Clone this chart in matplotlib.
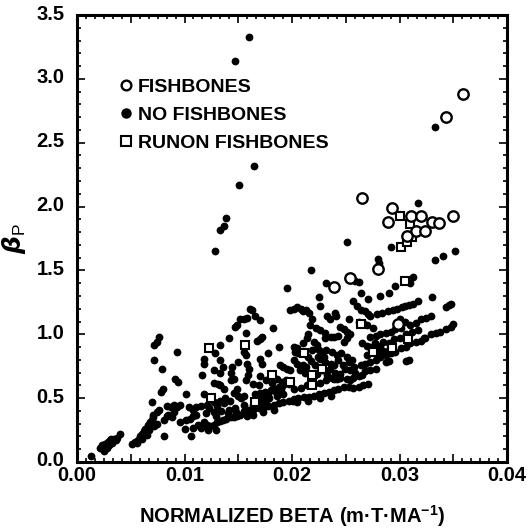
import numpy as np
import matplotlib
matplotlib.use('Agg')
import matplotlib.pyplot as plt
import matplotlib.transforms as mtransforms
from matplotlib.ticker import MultipleLocator, FuncFormatter
from matplotlib.lines import Line2D

plt.rcParams['font.family'] = ['Liberation Sans', 'DejaVu Sans']
plt.rcParams['font.weight'] = 'bold'
plt.rcParams['mathtext.fontset'] = 'dejavusans'

# no fishbones (filled dots): normalized beta, beta_p
nofish_x = [
    0.0160, 0.0147, 0.0151, 0.0165, 0.0128, 0.0133, 0.0137, 0.0139, 0.0333, 0.0317,
    0.0251, 0.0218, 0.0195, 0.0352, 0.0333, 0.0340, 0.0292, 0.0280, 0.0281, 0.0313,
    0.0259, 0.0262, 0.0296, 0.0310, 0.0232,
    0.0225, 0.0264, 0.0271, 0.0282, 0.0290, 0.0330, 0.0329, 0.0343, 0.0346, 0.0348, 0.0323,
    0.0273, 0.0279, 0.0284, 0.0289, 0.0294, 0.0298, 0.0302, 0.0305, 0.0309, 0.0313, 0.0317,
    0.0257, 0.0260, 0.0264, 0.0268, 0.0271,
    0.0198, 0.0202, 0.0205, 0.0208, 0.0210, 0.0213, 0.0216, 0.0219, 0.0226, 0.0233,
    0.0235, 0.0240, 0.0241, 0.0253, 0.0245, 0.0248, 0.0251, 0.0217, 0.0222, 0.0226, 0.0231,
    0.0202, 0.0205, 0.0203, 0.0206, 0.0214, 0.0215, 0.0220, 0.0223, 0.0225, 0.0228, 0.0230,
    0.0231, 0.0236, 0.0239, 0.0243, 0.0248, 0.0251, 0.0254,
    0.0224, 0.0226, 0.0231, 0.0236, 0.0239, 0.0242, 0.0246, 0.0251, 0.0253, 0.0256,
    0.0249, 0.0254, 0.0259, 0.0202, 0.0205, 0.0210, 0.0213, 0.0217, 0.0220, 0.0223,
    0.0233, 0.0237, 0.0242, 0.0245, 0.0251, 0.0254, 0.0257, 0.0262, 0.0265,
    0.0253, 0.0257, 0.0262, 0.0266, 0.0271,
    0.0202, 0.0206, 0.0211, 0.0216, 0.0220, 0.0225, 0.0230, 0.0234, 0.0239, 0.0243, 0.0248,
    0.0202, 0.0208, 0.0214, 0.0220, 0.0226, 0.0232, 0.0239, 0.0245,
    0.0205, 0.0215, 0.0226, 0.0236,
    0.0262, 0.0266, 0.0270, 0.0275, 0.0273, 0.0278, 0.0282, 0.0287, 0.0292, 0.0296, 0.0301,
    0.0285, 0.0290, 0.0295, 0.0265, 0.0270, 0.0273,
    0.0270, 0.0276, 0.0281, 0.0285, 0.0290,
    0.0258, 0.0264, 0.0268, 0.0273, 0.0278, 0.0282, 0.0287, 0.0292, 0.0296, 0.0301, 0.0306,
    0.0310, 0.0315, 0.0320, 0.0324, 0.0329, 0.0334, 0.0338, 0.0343, 0.0348, 0.0350,
    0.0287, 0.0290, 0.0306, 0.0309, 0.0268, 0.0273, 0.0278,
    0.0305, 0.0310, 0.0315, 0.0320, 0.0325, 0.0300,
    0.0167, 0.0170, 0.0172, 0.0182, 0.0178, 0.0188, 0.0170, 0.0172, 0.0189, 0.0192, 0.0195, 0.0198,
    0.0186, 0.0191, 0.0194, 0.0164, 0.0169,
    0.0166, 0.0170, 0.0175, 0.0180, 0.0183, 0.0188, 0.0192, 0.0197,
    0.0155, 0.0160, 0.0164, 0.0169, 0.0174, 0.0178, 0.0183, 0.0188, 0.0192, 0.0197, 0.0201,
    0.0158, 0.0164, 0.0173, 0.0183,
    0.0164, 0.0170, 0.0176, 0.0179, 0.0186, 0.0192,
    0.0118, 0.0118, 0.0128, 0.0133, 0.0133, 0.0141, 0.0147, 0.0149, 0.0152, 0.0155, 0.0158,
    0.0161, 0.0163, 0.0157, 0.0166, 0.0170,
    0.0127, 0.0133, 0.0136, 0.0116, 0.0127, 0.0118, 0.0131, 0.0133, 0.0137,
    0.0143, 0.0146, 0.0143, 0.0144, 0.0150, 0.0155, 0.0157,
    0.0158, 0.0160, 0.0159, 0.0157,
    0.0146, 0.0149, 0.0150, 0.0153, 0.0155,
    0.0113, 0.0118, 0.0121, 0.0124, 0.0127, 0.0130, 0.0133, 0.0136, 0.0139, 0.0143, 0.0146,
    0.0149, 0.0152, 0.0115, 0.0122, 0.0129, 0.0106,
    0.0115, 0.0121, 0.0127, 0.0133, 0.0138, 0.0108, 0.0111,
    0.0120, 0.0127, 0.0134, 0.0141, 0.0147,
    0.0051, 0.0054, 0.0057, 0.0059, 0.0060, 0.0062, 0.0063, 0.0065, 0.0066, 0.0068, 0.0070,
    0.0071, 0.0056, 0.0060, 0.0065, 0.0067, 0.0072, 0.0074,
    0.0070, 0.0071, 0.0074, 0.0076, 0.0072, 0.0072, 0.0074, 0.0076, 0.0079, 0.0078, 0.0080,
    0.0084, 0.0087, 0.0090, 0.0093, 0.0096, 0.0090, 0.0081, 0.0084, 0.0085, 0.0088, 0.0081,
    0.0093, 0.0091, 0.0094, 0.0101, 0.0104, 0.0096, 0.0101, 0.0105, 0.0108, 0.0111, 0.0100, 0.0108,
    0.0021, 0.0023, 0.0025, 0.0026, 0.0028, 0.0029, 0.0031, 0.0032, 0.0034, 0.0025, 0.0028,
    0.0030, 0.0033, 0.0036, 0.0040, 0.0037, 0.0013,
    0.0207, 0.0212, 0.0215, 0.0218, 0.0221, 0.0228, 0.0232, 0.0235, 0.0240, 0.0243, 0.0237,
    0.0232, 0.0247, 0.0219, 0.0210,
    0.0123, 0.0130, 0.0137, 0.0142, 0.0140, 0.0129, 0.0148, 0.0155,
    0.0172, 0.0178, 0.0185, 0.0190, 0.0176, 0.0181, 0.0170,
    0.0277, 0.0282, 0.0300, 0.0306, 0.0312, 0.0317,
]
nofish_y = [
    3.33, 3.14, 2.17, 2.32, 1.65, 1.82, 1.85, 1.91, 2.62, 2.03,
    1.72, 1.50, 1.36, 1.65, 1.58, 1.61, 1.68, 1.59, 1.56, 1.45,
    1.42, 1.41, 1.375, 1.40, 1.40,
    1.29, 1.32, 1.28, 1.30, 1.32, 1.29, 1.14, 1.21, 1.23, 1.24, 0.97,
    1.14, 1.16, 1.17, 1.18, 1.19, 1.20, 1.21, 1.22, 1.23, 1.24, 1.26,
    1.26, 1.22, 1.19, 1.18, 1.16,
    1.19, 1.20, 1.21, 1.20, 1.18, 1.19, 1.17, 1.12, 1.22, 1.14,
    1.12, 1.17, 1.14, 1.12, 1.06, 1.04, 1.02, 1.07, 1.05, 1.03, 1.01,
    0.90, 0.89, 0.86, 0.85, 0.97, 1.00, 0.94, 0.92, 0.88, 0.85, 0.82,
    0.97, 0.98, 0.98, 0.99, 0.94, 0.97, 1.00,
    0.82, 0.81, 0.78, 0.77, 0.76, 0.84, 0.85, 0.82, 0.78, 0.80,
    0.73, 0.72, 0.70, 0.80, 0.77, 0.76, 0.74, 0.68, 0.67, 0.69,
    0.68, 0.66, 0.65, 0.69, 0.65, 0.64, 0.66, 0.67, 0.68,
    0.59, 0.58, 0.59, 0.60, 0.61,
    0.49, 0.50, 0.51, 0.51, 0.52, 0.53, 0.54, 0.55, 0.56, 0.57, 0.59,
    0.57, 0.58, 0.60, 0.61, 0.62, 0.64, 0.65, 0.66,
    0.47, 0.48, 0.50, 0.52,
    1.10, 1.09, 1.07, 1.05, 0.98, 0.99, 1.00, 1.01, 1.02, 1.04, 1.05,
    0.94, 0.93, 0.96, 0.93, 0.91, 0.90,
    0.84, 0.85, 0.86, 0.87, 0.88,
    0.74, 0.76, 0.77, 0.78, 0.80, 0.82, 0.84, 0.85, 0.86, 0.89, 0.90,
    0.93, 0.94, 0.95, 0.97, 1.00, 1.01, 1.02, 1.04, 1.06, 1.08,
    0.78, 0.79, 0.79, 0.80, 0.71, 0.72, 0.73,
    1.10, 1.07, 1.09, 1.12, 1.13, 1.12,
    0.95, 0.96, 0.98, 1.05, 0.85, 0.90, 0.81, 0.77, 0.76, 0.74, 0.73, 0.72,
    0.65, 0.63, 0.64, 0.61, 0.60,
    0.53, 0.54, 0.55, 0.56, 0.57, 0.59, 0.60, 0.61,
    0.40, 0.41, 0.41, 0.42, 0.43, 0.44, 0.45, 0.46, 0.47, 0.48, 0.48,
    0.36, 0.37, 0.39, 0.41,
    0.45, 0.47, 0.48, 0.50, 0.52, 0.53,
    0.77, 0.81, 0.85, 0.92, 0.80, 0.97, 1.06, 1.07, 1.12, 1.12, 1.13,
    1.20, 1.19, 1.01, 1.14, 1.11,
    0.72, 0.70, 0.74, 0.68, 0.62, 0.53, 0.61, 0.60, 0.57,
    0.64, 0.65, 0.70, 0.74, 0.78, 0.86, 0.84,
    0.77, 0.73, 0.68, 0.64,
    0.54, 0.57, 0.52, 0.50, 0.45,
    0.29, 0.31, 0.29, 0.28, 0.29, 0.31, 0.32, 0.33, 0.34, 0.35, 0.35,
    0.36, 0.37, 0.27, 0.25, 0.25, 0.20,
    0.44, 0.45, 0.47, 0.48, 0.50, 0.41, 0.43,
    0.38, 0.39, 0.40, 0.41, 0.42,
    0.14, 0.16, 0.17, 0.20, 0.22, 0.24, 0.26, 0.27, 0.29, 0.31, 0.33,
    0.35, 0.15, 0.18, 0.21, 0.25, 0.28, 0.30,
    0.47, 0.37, 0.39, 0.41, 0.80, 0.92, 0.94, 0.98, 0.73, 0.55, 0.57,
    0.44, 0.43, 0.45, 0.43, 0.45, 0.39, 0.33, 0.36, 0.37, 0.35, 0.20,
    0.86, 0.65, 0.63, 0.53, 0.43, 0.31, 0.33, 0.34, 0.36, 0.37, 0.26, 0.27,
    0.11, 0.13, 0.12, 0.14, 0.15, 0.16, 0.17, 0.18, 0.18, 0.09, 0.11,
    0.13, 0.15, 0.17, 0.22, 0.19, 0.045,
    0.72, 0.70, 0.82, 0.79, 0.76, 0.72, 0.71, 0.73, 0.70, 0.80, 0.86,
    0.88, 0.76, 0.88, 0.93,
    0.42, 0.44, 0.46, 0.48, 0.38, 0.36, 0.39, 0.52,
    0.51, 0.53, 0.55, 0.57, 0.64, 0.62, 0.67,
    0.93, 0.91, 0.97, 1.00, 1.02, 1.03,
]

# fishbones (open circles)
fish_x = [0.0359, 0.0343, 0.0265, 0.0293, 0.0289, 0.0311, 0.0320, 0.0330, 0.0337,
          0.0350, 0.0315, 0.0324, 0.0307, 0.0280, 0.0254, 0.0239, 0.0299]
fish_y = [2.88, 2.70, 2.07, 1.99, 1.88, 1.93, 1.93, 1.88, 1.87,
          1.93, 1.81, 1.81, 1.77, 1.51, 1.44, 1.37, 1.08]

# runon fishbones (open squares)
runon_x = [0.0300, 0.0310, 0.0301, 0.0307, 0.0312, 0.0305, 0.0264, 0.0275, 0.0293, 0.0308,
           0.0123, 0.0156, 0.0181, 0.0198, 0.0219, 0.0228, 0.0211, 0.0125, 0.0166, 0.0219]
runon_y = [1.93, 1.86, 1.68, 1.72, 1.76, 1.42, 1.08, 0.86, 0.89, 0.96,
           0.89, 0.92, 0.68, 0.63, 0.60, 0.73, 0.85, 0.505, 0.47, 0.68]

fig = plt.figure(figsize=(5.29, 5.32), dpi=100)
ax = fig.add_axes([77 / 529, 1 - 462 / 532, 430 / 529, 447 / 532])

ax.plot(nofish_x, nofish_y, 'o', color='black', markersize=5.6, markeredgewidth=0)
ax.plot(runon_x, runon_y, 's', markerfacecolor='white', markeredgecolor='black',
        markersize=6.3, markeredgewidth=1.5)
ax.plot(fish_x, fish_y, 'o', markerfacecolor='white', markeredgecolor='black',
        markersize=7.5, markeredgewidth=1.7)

ax.set_xlim(0, 0.04)
ax.set_ylim(0, 3.5)

ax.xaxis.set_major_locator(MultipleLocator(0.005))
ax.xaxis.set_minor_locator(MultipleLocator(0.005 / 6))
ax.xaxis.set_major_formatter(FuncFormatter(
    lambda v, p: f'{v:.2f}' if abs(round(v / 0.01) * 0.01 - v) < 1e-9 else ''))
ax.yaxis.set_major_locator(MultipleLocator(0.5))
ax.yaxis.set_minor_locator(MultipleLocator(0.1))
ax.yaxis.set_major_formatter(FuncFormatter(lambda v, p: f'{v:.1f}'))

ax.tick_params(which='both', direction='in', top=True, right=True, width=1.2)
ax.tick_params(which='major', length=6)
ax.tick_params(which='minor', length=3)
ax.tick_params(axis='x', which='major', labelsize=14.5, pad=3)
ax.tick_params(axis='y', which='major', labelsize=14.5, pad=9)
for s in ax.spines.values():
    s.set_linewidth(2.2)

# y tick labels sit a little above their ticks in the original
shift = mtransforms.ScaledTranslation(0, 3 / 100, fig.dpi_scale_trans)
for lab in ax.get_yticklabels():
    lab.set_transform(lab.get_transform() + shift)

ax.set_xlabel('NORMALIZED BETA (m\u00b7T\u00b7MA$^{\\mathregular{-1}}$)', fontsize=14.5,
              fontweight='bold', labelpad=13)
ax.set_ylabel(r'$\beta_\mathregular{P}$', fontsize=18, labelpad=6)

handles = [
    Line2D([], [], marker='o', ls='none', mfc='white', mec='black', ms=7, mew=1.7),
    Line2D([], [], marker='o', ls='none', color='black', ms=7.5, mew=0),
    Line2D([], [], marker='s', ls='none', mfc='white', mec='black', ms=6.5, mew=1.5),
]
ax.legend(handles, ['FISHBONES', 'NO FISHBONES', 'RUNON FISHBONES'],
          loc='upper left', bbox_to_anchor=(0.083, 0.875), frameon=False,
          handlelength=0.6, handletextpad=0.3, labelspacing=0.52,
          borderaxespad=0, prop={'size': 14, 'weight': 'bold'})

fig.savefig('out.png', dpi=100)
